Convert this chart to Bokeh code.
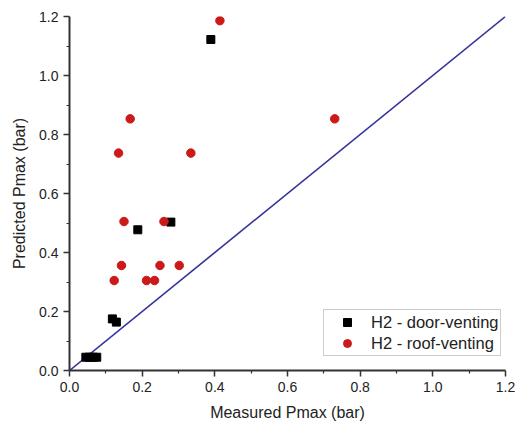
from bokeh.plotting import figure
from bokeh.models import Range1d, Legend, LegendItem, FixedTicker, NumeralTickFormatter
from bokeh.embed import file_html
from bokeh.resources import INLINE

door_x = [0.045, 0.055, 0.065, 0.075, 0.118, 0.129, 0.188, 0.279, 0.389]
door_y = [0.045, 0.045, 0.045, 0.045, 0.175, 0.164, 0.477, 0.503, 1.122]

roof_x = [0.123, 0.135, 0.143, 0.150, 0.167, 0.212, 0.234, 0.249, 0.260, 0.302, 0.334, 0.414, 0.730]
roof_y = [0.305, 0.737, 0.356, 0.505, 0.853, 0.305, 0.305, 0.356, 0.505, 0.356, 0.737, 1.186, 0.853]

line_x = [0.0, 1.2]
line_y = [0.0, 1.2]

x_ticks = [0.0, 0.2, 0.4, 0.6, 0.8, 1.0, 1.2]
y_ticks = [0.0, 0.2, 0.4, 0.6, 0.8, 1.0, 1.2]
minor = [0.1, 0.3, 0.5, 0.7, 0.9, 1.1]

FONT = "Liberation Sans"
TXT = "#222222"
AX = "#333333"

p = figure(width=517, height=423, output_backend="svg", toolbar_location=None,
           x_range=Range1d(0, 1.2), y_range=Range1d(0, 1.2),
           min_border_left=69, min_border_right=12, min_border_top=16, min_border_bottom=53)
p.outline_line_color = None
p.grid.visible = False
p.background_fill_color = "white"
p.border_fill_color = "white"

p.line(line_x, line_y, line_color="#33339a", line_width=1.6)

r_door = p.scatter(door_x, door_y, marker="square", size=8, fill_color="black", line_color="black")
r_roof = p.scatter(roof_x, roof_y, marker="circle", size=8.5, fill_color="#cc1a1a", line_color="#cc1a1a")

for ax, ticks in ((p.xaxis[0], x_ticks), (p.yaxis[0], y_ticks)):
    ax.ticker = FixedTicker(ticks=ticks, minor_ticks=minor)
    ax.formatter = NumeralTickFormatter(format="0.0")
    ax.axis_line_color = AX
    ax.axis_line_width = 2
    ax.major_tick_line_color = AX
    ax.major_tick_line_width = 1.5
    ax.minor_tick_line_color = AX
    ax.minor_tick_line_width = 1.2
    ax.major_tick_out = 6
    ax.major_tick_in = 0
    ax.minor_tick_out = 3
    ax.minor_tick_in = 0
    ax.major_label_text_font = FONT
    ax.major_label_text_font_size = "14px"
    ax.major_label_text_color = TXT
    ax.axis_label_text_font = FONT
    ax.axis_label_text_font_size = "16px"
    ax.axis_label_text_font_style = "normal"
    ax.axis_label_text_color = TXT

p.xaxis[0].axis_label = "Measured Pmax (bar)"
p.yaxis[0].axis_label = "Predicted Pmax (bar)"
p.xaxis[0].major_label_standoff = 5
p.yaxis[0].major_label_standoff = 5
p.xaxis[0].axis_label_standoff = 9
p.yaxis[0].axis_label_standoff = 8

legend = Legend(items=[LegendItem(label="H2 - door-venting", renderers=[r_door]),
                       LegendItem(label="H2 - roof-venting", renderers=[r_roof])],
                location=(254, 14))
legend.label_text_font = FONT
legend.label_text_font_size = "16.5px"
legend.label_text_color = TXT
legend.border_line_color = "#999999"
legend.border_line_width = 1
legend.background_fill_alpha = 1
legend.padding = 2
legend.spacing = 1
legend.glyph_width = 42
legend.glyph_height = 20
legend.label_height = 20
legend.label_standoff = 3
legend.margin = 0
p.add_layout(legend)

open("out.html", "w").write(file_html(p, INLINE))
